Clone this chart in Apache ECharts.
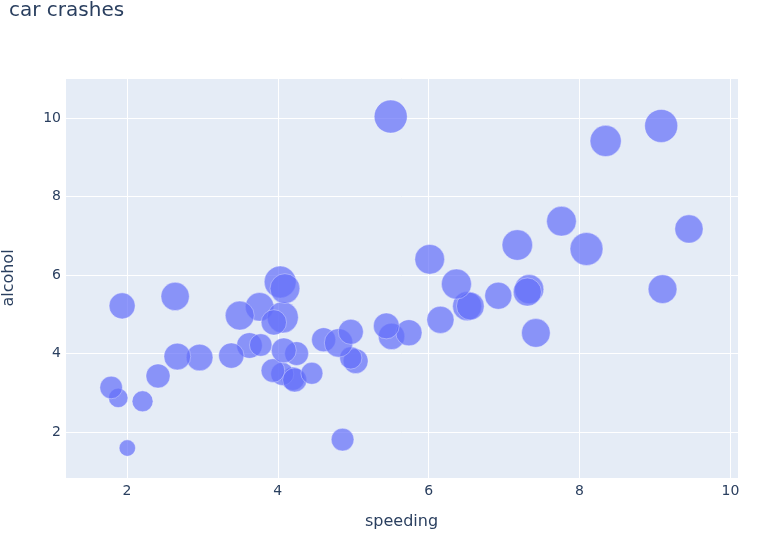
<!DOCTYPE html>
<html><head><meta charset="utf-8">
<script src="https://cdn.jsdelivr.net/npm/echarts@6/dist/echarts.min.js"></script>
<style>html,body{margin:0;padding:0;background:#fff}#c{width:765px;height:542px}</style>
</head><body><div id="c"></div>
<script>
const states = ["AL","AK","AZ","AR","CA","CO","CT","DE","DC","FL","GA","HI","ID","IL","IN","IA","KS","KY","LA","ME","MD","MA","MI","MN","MS","MO","MT","NE","NV","NH","NJ","NM","NY","NC","ND","OH","OK","OR","PA","RI","SC","SD","TN","TX","UT","VT","VA","WA","WV","WI","WY"];
const total = [18.8,18.1,18.6,22.4,12.0,13.6,10.8,16.2,5.9,17.9,15.6,17.5,15.3,12.8,14.5,15.7,17.8,21.4,20.5,15.1,12.5,8.2,14.1,9.6,17.6,16.1,21.4,14.9,14.7,11.6,11.2,18.4,12.3,16.8,23.9,14.1,19.9,12.8,18.2,11.1,23.9,19.4,19.5,19.4,11.3,13.6,12.7,10.6,23.8,13.8,17.4];
const speeding = [7.332,7.421,6.510,4.032,4.200,5.032,4.968,6.156,2.006,3.759,2.964,9.450,5.508,4.608,3.625,2.669,4.806,4.066,7.175,5.738,4.250,1.886,3.384,2.208,2.640,6.923,8.346,1.937,5.439,4.060,1.792,3.496,3.936,6.552,5.497,3.948,6.368,4.224,9.100,3.774,9.082,6.014,4.095,7.760,4.859,4.080,2.413,4.452,8.092,4.968,7.308];
const alcohol = [5.640,4.525,5.208,5.824,3.360,3.808,3.888,4.860,1.593,5.191,3.900,7.175,4.437,4.352,4.205,3.925,4.272,4.922,6.765,4.530,4.000,2.870,3.948,2.784,5.456,5.474,9.416,5.215,4.704,3.480,3.136,4.968,3.567,5.208,10.038,4.794,5.771,3.328,5.642,4.218,9.799,6.402,5.655,7.372,1.808,4.080,3.429,3.498,6.664,4.554,5.568];

const data = speeding.map((s,i)=>[s, alcohol[i], total[i]]);
const maxTotal = Math.max(...total);
const txt = '#2a3f5f';
const font = 'DejaVu Sans, Verdana, sans-serif';
const chart = echarts.init(document.getElementById('c'), null, {renderer:'canvas'});
chart.setOption({
  animation:false,
  backgroundColor:'#fff',
  title:{text:'car crashes', left:4, top:-4, textStyle:{fontFamily:font, fontSize:20, fontWeight:'normal', color:txt}},
  grid:{left:65, right:27, top:78, bottom:64, backgroundColor:'#e5ecf6', show:true, borderWidth:0, containLabel:false, outerBoundsMode:'none'},
  xAxis:{type:'value', min:1.18, max:10.1, splitNumber:5,
    name:'speeding', nameLocation:'middle', nameGap:36,
    nameTextStyle:{fontFamily:font, fontSize:16, color:txt},
    axisLine:{show:false}, axisTick:{show:false},
    axisLabel:{showMinLabel:false, showMaxLabel:false, fontFamily:font, fontSize:14, color:txt, margin:6},
    splitLine:{show:true, lineStyle:{color:'#fff', width:1}}
  },
  yAxis:{type:'value', min:0.83, max:11.02, splitNumber:5,
    name:'alcohol', nameLocation:'middle', nameGap:48,
    nameTextStyle:{fontFamily:font, fontSize:16, color:txt},
    axisLine:{show:false}, axisTick:{show:false},
    axisLabel:{showMinLabel:false, showMaxLabel:false, fontFamily:font, fontSize:14, color:txt, margin:4},
    splitLine:{show:true, lineStyle:{color:'#fff', width:1}}
  },
  series:[{
    type:'scatter',
    data:data,
    symbolSize: v => 33*Math.sqrt(v[2]/maxTotal),
    itemStyle:{color:'#636efa', opacity:0.7, borderColor:'#ffffff', borderWidth:0.5}
  }]
});
</script></body></html>
